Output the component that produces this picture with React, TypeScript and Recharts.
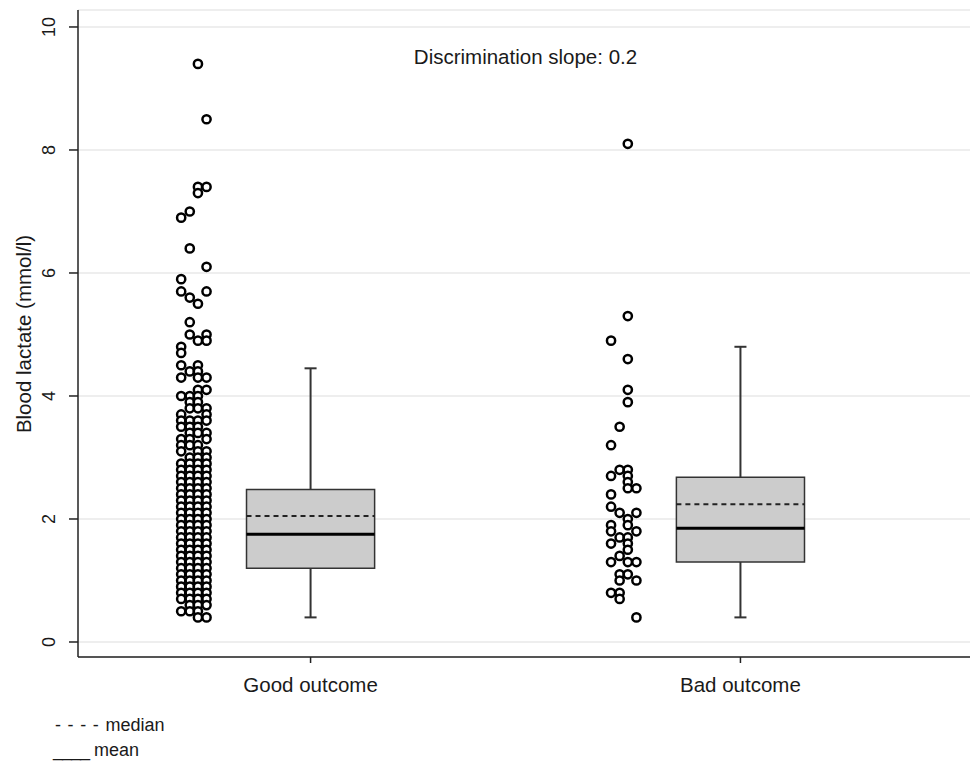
import React from 'react';
import {
  ComposedChart,
  Scatter,
  XAxis,
  YAxis,
  CartesianGrid,
  ReferenceArea,
  ReferenceLine,
} from 'recharts';

// ---------- data ----------
const categories = ['Good outcome', 'Bad outcome'];
const categoryPos = [1, 2];
const yTicks = [0, 2, 4, 6, 8, 10];

// rows where every jitter column of the good-outcome strip is filled
const goodDenseRows = [
  2.9, 2.8, 2.7, 2.6, 2.5, 2.4, 2.3, 2.2, 2.1, 2.0, 1.9, 1.8,
  1.7, 1.6, 1.5, 1.4, 1.3, 1.2, 1.1, 1.0, 0.9, 0.8, 0.7,
];
const goodCol1 = [6.9, 5.9, 5.7, 4.8, 4.7, 4.5, 4.3, 4.0, 3.7, 3.6, 3.5, 3.3, 3.2, 3.1, ...goodDenseRows, 0.5];
const goodCol2 = [7.0, 6.4, 5.6, 5.2, 5.0, 4.4, 4.0, 3.9, 3.8, 3.6, 3.5, 3.4, 3.3, 3.2, 3.0, ...goodDenseRows, 0.6, 0.5];
const goodCol3 = [9.4, 7.4, 7.3, 5.5, 4.9, 4.5, 4.4, 4.3, 4.1, 4.0, 3.9, 3.8, 3.6, 3.5, 3.4, 3.2, 3.1, 3.0, ...goodDenseRows, 0.6, 0.5, 0.4];
const goodCol4 = [8.5, 7.4, 6.1, 5.7, 5.0, 4.9, 4.3, 4.1, 3.8, 3.7, 3.6, 3.4, 3.3, 3.1, 3.0, ...goodDenseRows, 0.6, 0.4];

const badCol1 = [4.9, 3.2, 2.7, 2.4, 2.2, 1.9, 1.8, 1.6, 1.3, 0.8];
const badCol2 = [3.5, 2.8, 2.1, 1.7, 1.4, 1.1, 1.0, 0.8, 0.7];
const badCol3 = [8.1, 5.3, 4.6, 4.1, 3.9, 2.8, 2.7, 2.6, 2.5, 2.0, 1.9, 1.7, 1.6, 1.5, 1.3, 1.1];
const badCol4 = [2.5, 2.1, 1.8, 1.3, 1.0, 0.4];

// box statistics per category
const boxQ1 = [1.2, 1.3];
const boxQ3 = [2.48, 2.68];
const dashedLine = [2.05, 2.24]; // "- - - - median"
const solidLine = [1.75, 1.85]; // "____ mean"
const whiskerLow = [0.4, 0.4];
const whiskerHigh = [4.45, 4.8];

// ---------- layout (styling only) ----------
const X_DOMAIN: [number, number] = [0.459, 2.534];
const Y_DOMAIN: [number, number] = [-0.244, 10.276];
const COL_OFFSETS = [-0.301, -0.281, -0.262, -0.242];
const BOX_HALF = 0.149;
const CAP_HALF = 0.014;
const FONT = '"Liberation Sans", Arial, Helvetica, sans-serif';

const toPoints = (pos: number, cols: number[][]) =>
  cols.flatMap((vals, ci) => vals.map((v) => ({ x: pos + COL_OFFSETS[ci], y: v })));

const goodPoints = toPoints(categoryPos[0], [goodCol1, goodCol2, goodCol3, goodCol4]);
const badPoints = toPoints(categoryPos[1], [badCol1, badCol2, badCol3, badCol4]);

const Dot = (props: any) => {
  const { cx, cy } = props;
  if (cx == null || cy == null) return null;
  return <circle cx={cx} cy={cy} r={4.1} fill="#ffffff" stroke="#000000" strokeWidth={2.5} />;
};

const YTick = (props: any) => {
  const { x, y, payload } = props;
  const bx = x - 12;
  return (
    <text
      x={bx}
      y={y}
      transform={`rotate(-90 ${bx} ${y})`}
      textAnchor="middle"
      fontFamily={FONT}
      fontSize={18}
      fill="#1a1a1a"
    >
      {payload.value}
    </text>
  );
};

const XTick = (props: any) => {
  const { x, y, payload } = props;
  const idx = categoryPos.indexOf(payload.value);
  return (
    <text x={x} y={y + 27} textAnchor="middle" fontFamily={FONT} fontSize={20.5} fill="#1a1a1a">
      {idx >= 0 ? categories[idx] : ''}
    </text>
  );
};

const YLabel = () => (
  <text
    x={31}
    y={334}
    transform="rotate(-90 31 334)"
    textAnchor="middle"
    fontFamily={FONT}
    fontSize={20.5}
    fill="#1a1a1a"
  >
    Blood lactate (mmol/l)
  </text>
);

export default function App() {
  return (
    <div style={{ position: 'absolute', left: 0, top: 0, width: 972, height: 762, background: '#ffffff' }}>
      <ComposedChart
        width={972}
        height={762}
        margin={{ top: 10, right: 2, bottom: 65, left: 0 }}
      >
        <CartesianGrid horizontal vertical={false} stroke="#e8e8e8" strokeWidth={1.5} />
        <XAxis
          type="number"
          dataKey="x"
          domain={X_DOMAIN}
          ticks={categoryPos}
          allowDataOverflow
          height={40}
          tickSize={6}
          tick={<XTick />}
          axisLine={{ stroke: '#222', strokeWidth: 1.5 }}
          tickLine={{ stroke: '#222', strokeWidth: 1.5 }}
        />
        <YAxis
          type="number"
          dataKey="y"
          domain={Y_DOMAIN}
          ticks={yTicks}
          allowDataOverflow
          width={78}
          tickSize={9}
          tick={<YTick />}
          axisLine={{ stroke: '#222', strokeWidth: 1.5 }}
          tickLine={{ stroke: '#222', strokeWidth: 1.5 }}
          label={{ content: () => <YLabel /> }}
        />
        {categoryPos.map((p, i) => (
          <ReferenceLine
            key={`wh-${i}`}
            segment={[{ x: p, y: boxQ3[i] }, { x: p, y: whiskerHigh[i] }]}
            stroke="#333"
            strokeWidth={2}
          />
        ))}
        {categoryPos.map((p, i) => (
          <ReferenceLine
            key={`wl-${i}`}
            segment={[{ x: p, y: whiskerLow[i] }, { x: p, y: boxQ1[i] }]}
            stroke="#333"
            strokeWidth={2}
          />
        ))}
        {categoryPos.map((p, i) => (
          <ReferenceLine
            key={`ch-${i}`}
            segment={[{ x: p - CAP_HALF, y: whiskerHigh[i] }, { x: p + CAP_HALF, y: whiskerHigh[i] }]}
            stroke="#333"
            strokeWidth={2}
          />
        ))}
        {categoryPos.map((p, i) => (
          <ReferenceLine
            key={`cl-${i}`}
            segment={[{ x: p - CAP_HALF, y: whiskerLow[i] }, { x: p + CAP_HALF, y: whiskerLow[i] }]}
            stroke="#333"
            strokeWidth={2}
          />
        ))}
        {categoryPos.map((p, i) => (
          <ReferenceArea
            key={`box-${i}`}
            x1={p - BOX_HALF}
            x2={p + BOX_HALF}
            y1={boxQ1[i]}
            y2={boxQ3[i]}
            fill="#cccccc"
            fillOpacity={1}
            stroke="#333"
            strokeWidth={1.5}
          />
        ))}
        {categoryPos.map((p, i) => (
          <ReferenceLine
            key={`dash-${i}`}
            segment={[{ x: p - BOX_HALF, y: dashedLine[i] }, { x: p + BOX_HALF, y: dashedLine[i] }]}
            stroke="#222"
            strokeWidth={2}
            strokeDasharray="5 4"
          />
        ))}
        {categoryPos.map((p, i) => (
          <ReferenceLine
            key={`solid-${i}`}
            segment={[{ x: p - BOX_HALF, y: solidLine[i] }, { x: p + BOX_HALF, y: solidLine[i] }]}
            stroke="#000"
            strokeWidth={3}
          />
        ))}
        <Scatter data={goodPoints} dataKey="y" shape={<Dot />} isAnimationActive={false} />
        <Scatter data={badPoints} dataKey="y" shape={<Dot />} isAnimationActive={false} />
      </ComposedChart>
      <div
        style={{
          position: 'absolute',
          left: 0,
          width: 1051,
          top: 47,
          textAlign: 'center',
          fontFamily: FONT,
          fontSize: 20.5,
          lineHeight: '20.5px',
          color: '#1a1a1a',
          whiteSpace: 'nowrap',
        }}
      >
        Discrimination slope: 0.2
      </div>
      <div
        style={{
          position: 'absolute',
          left: 55,
          top: 715,
          fontFamily: FONT,
          fontSize: 18,
          lineHeight: '20px',
          color: '#1a1a1a',
          whiteSpace: 'pre',
        }}
      >
        <span style={{ letterSpacing: 0.8 }}>- - - - </span>median
      </div>
      <div
        style={{
          position: 'absolute',
          left: 53,
          top: 740,
          fontFamily: FONT,
          fontSize: 18,
          lineHeight: '20px',
          color: '#1a1a1a',
          whiteSpace: 'pre',
        }}
      >
        <span style={{ letterSpacing: -1 }}>____</span> mean
      </div>
    </div>
  );
}
